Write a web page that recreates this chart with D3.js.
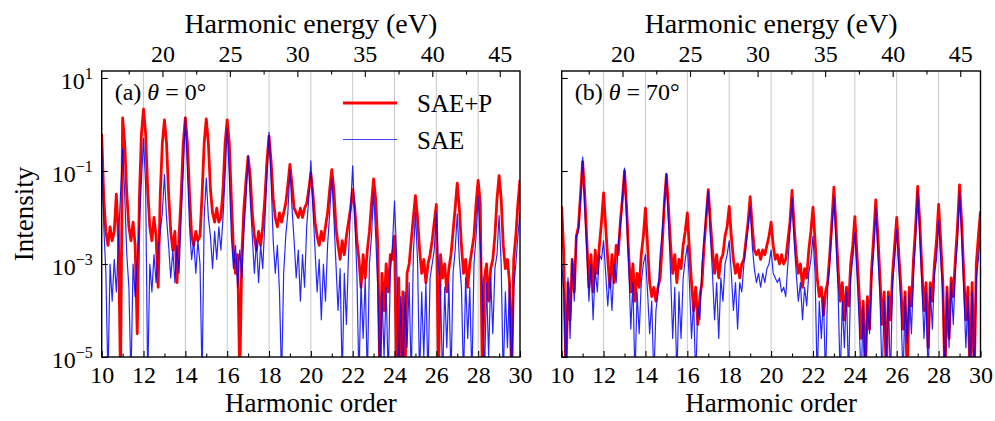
<!DOCTYPE html>
<html>
<head>
<meta charset="utf-8">
<script src="https://cdn.jsdelivr.net/npm/d3@7/dist/d3.min.js"></script>
<style>
  body { margin: 0; background: #fff; }
  text { font-family: "Liberation Serif", "Times New Roman", serif; fill: #000; }
</style>
</head>
<body>
<svg id="fig" width="995" height="421"></svg>
<script>
// harmonic order sampling grid, 10 ... 30 in steps of 0.1
var orders = d3.range(0, 201).map(function(i) { return 10 + i / 10; });

// log10 intensity, one row per harmonic order (n.0 ... n.9)
var saepA = [
  -0.2, -1.6, -2.3, -2.6, -2.2, -2.5, -2.3, -1.5, -2.4, -5.5,   // 10
  0.14, -0.4, -1.5, -2.2, -2.5, -2.1, -2.6, -4.5, -1.6, -0.2,   // 11
  0.33, -0.2, -1.4, -2.2, -2.5, -2.0, -2.4, -3.5, -1.5, -0.4,   // 12
  0.1, -0.4, -1.5, -2.3, -2.7, -2.3, -3.4, -2.4, -1.5, -0.4,    // 13
  0.14, -0.4, -1.5, -2.4, -2.6, -2.3, -2.5, -2.4, -1.5, -0.4,   // 14
  0.12, -0.4, -1.4, -1.9, -2.1, -1.8, -2.1, -2.0, -1.4, -0.4,   // 15
  0.1, -0.4, -1.6, -2.7, -3.2, -2.8, -5.5, -2.8, -1.8, -1.2,    // 16
  -0.69, -1.1, -1.9, -2.4, -2.7, -2.3, -2.6, -2.2, -1.6, -0.8,  // 17
  -0.25, -0.8, -1.6, -2.0, -2.2, -1.9, -2.1, -1.9, -1.7, -1.3,  // 18
  -0.86, -1.3, -1.8, -1.9, -2.0, -1.8, -2.0, -1.8, -1.7, -1.4,  // 19
  -1.05, -1.5, -2.1, -2.4, -2.6, -2.3, -2.5, -2.2, -1.9, -1.4,  // 20
  -0.97, -1.4, -2.2, -2.6, -2.9, -2.5, -2.8, -2.4, -2.1, -1.8,  // 21
  -1.4, -1.8, -2.5, -2.9, -3.5, -2.8, -3.3, -2.7, -2.3, -1.7,   // 22
  -1.17, -1.6, -2.6, -5.5, -3.2, -4.0, -3.0, -3.6, -2.8, -2.9,  // 23
  -2.4, -5.5, -3.3, -5.5, -3.6, -5.5, -3.2, -3.0, -2.5, -2.0,   // 24
  -1.53, -2.0, -2.7, -3.2, -2.9, -3.4, -3.0, -2.8, -2.5, -2.1,  // 25
  -1.72, -5.5, -2.8, -3.3, -3.0, -3.6, -3.1, -2.8, -2.3, -1.8,  // 26
  -1.26, -1.8, -2.6, -3.2, -2.9, -3.5, -3.0, -2.7, -2.4, -1.7,  // 27
  -1.2, -1.7, -5.5, -3.3, -3.0, -3.8, -3.1, -2.9, -2.4, -1.6,   // 28
  -1.1, -1.6, -2.6, -3.1, -2.9, -3.4, -5.5, -2.9, -2.4, -1.7,   // 29
  -1.19                                                         // 30
];
var saeA = [
  -0.55, -2.2, -3.2, -5.5, -3.0, -3.8, -2.9, -3.6, -2.5, -1.5,  // 10
  -0.53, -1.5, -2.8, -3.5, -5.5, -3.0, -3.7, -2.9, -2.2, -1.2,  // 11
  -0.3, -1.3, -5.5, -3.0, -3.6, -2.8, -3.4, -2.7, -2.3, -1.9,   // 12
  -1.08, -2.0, -2.6, -3.3, -2.7, -3.4, -2.6, -3.2, -2.0, -1.0,  // 13
  0.16, -1.0, -2.2, -2.9, -2.5, -3.2, -2.5, -3.0, -5.5, -2.0,   // 14
  -1.15, -2.0, -2.4, -3.1, -2.3, -2.9, -2.2, -2.7, -2.0, -1.1,  // 15
  -0.08, -1.1, -2.4, -3.1, -2.6, -3.5, -2.7, -3.3, -2.3, -1.6,  // 16
  -0.67, -1.6, -2.4, -3.2, -2.5, -3.4, -2.6, -3.1, -2.1, -1.1,  // 17
  -0.17, -1.2, -2.5, -3.2, -2.6, -3.6, -5.5, -3.2, -2.4, -1.9,  // 18
  -0.97, -1.8, -2.5, -3.3, -2.7, -3.8, -2.8, -3.5, -2.2, -1.6,  // 19
  -0.78, -1.8, -2.7, -3.6, -2.9, -4.2, -3.0, -3.8, -2.6, -1.9,  // 20
  -1.15, -2.0, -3.0, -4.0, -3.1, -5.5, -3.2, -4.3, -2.8, -1.8,  // 21
  -0.89, -2.0, -3.2, -5.5, -3.4, -4.6, -3.3, -5.5, -3.0, -2.4,  // 22
  -1.44, -2.4, -3.5, -5.5, -3.6, -5.0, -3.5, -5.5, -3.2, -2.6,  // 23
  -1.65, -2.8, -5.5, -3.7, -5.5, -3.6, -4.8, -3.4, -5.5, -2.8,  // 24
  -1.89, -2.9, -5.5, -3.6, -5.0, -3.4, -5.5, -3.3, -3.0, -2.7,  // 25
  -1.9, -3.0, -3.6, -5.5, -3.5, -4.8, -3.4, -5.5, -3.2, -2.7,   // 26
  -1.92, -2.9, -3.5, -5.5, -3.3, -4.6, -3.5, -5.5, -3.0, -2.4,  // 27
  -1.55, -2.6, -3.5, -5.5, -3.4, -5.0, -3.3, -4.5, -3.1, -2.8,  // 28
  -1.96, -3.0, -5.5, -3.6, -4.8, -3.4, -5.5, -3.5, -3.0, -2.4,  // 29
  -1.9                                                          // 30
];
var saepB = [
  -1.76, -2.8, -5.5, -3.4, -4.2, -2.9, -3.6, -2.4, -2.2, -1.5,  // 10
  -0.8, -1.5, -2.5, -3.5, -2.8, -3.6, -2.7, -3.2, -2.6, -2.1,   // 11
  -1.47, -2.2, -2.9, -3.5, -2.8, -3.4, -2.6, -2.8, -2.1, -1.6,  // 12
  -1.0, -1.8, -2.8, -3.6, -3.0, -3.8, -3.2, -3.5, -2.8, -2.4,   // 13
  -1.8, -2.6, -3.4, -3.7, -3.5, -3.8, -3.5, -3.3, -2.6, -1.7,   // 14
  -1.08, -1.8, -2.6, -3.2, -2.8, -3.4, -2.9, -3.1, -2.6, -2.3,  // 15
  -1.9, -2.7, -3.4, -4.0, -3.5, -4.3, -3.7, -3.4, -2.6, -2.0,   // 16
  -1.4, -2.1, -2.7, -3.2, -2.8, -3.3, -2.9, -2.8, -2.4, -2.2,   // 17
  -1.76, -2.4, -2.9, -3.2, -3.0, -3.3, -3.0, -2.9, -2.5, -2.1,  // 18
  -1.55, -2.2, -2.7, -2.8, -2.7, -2.9, -2.7, -2.8, -2.6, -2.4,  // 19
  -2.1, -2.6, -2.9, -2.8, -3.0, -2.8, -3.0, -2.9, -2.5, -2.1,   // 20
  -1.42, -2.2, -2.8, -3.2, -3.0, -3.5, -3.1, -3.3, -2.7, -2.3,  // 21
  -1.78, -2.5, -3.3, -3.7, -3.5, -4.1, -3.6, -3.4, -2.8, -2.1,  // 22
  -1.35, -2.2, -3.1, -3.8, -3.4, -4.2, -3.5, -3.9, -3.0, -2.6,  // 23
  -1.98, -2.8, -3.6, -4.6, -3.8, -5.5, -3.7, -4.4, -3.1, -2.4,  // 24
  -1.62, -2.4, -3.3, -4.3, -3.6, -5.5, -3.6, -4.2, -3.2, -2.6,  // 25
  -2.0, -2.8, -3.5, -4.4, -3.6, -5.5, -3.5, -3.9, -2.9, -2.2,   // 26
  -1.33, -2.1, -3.1, -4.0, -3.4, -4.8, -3.4, -3.8, -3.0, -2.5,  // 27
  -1.72, -2.5, -3.4, -5.5, -3.5, -4.6, -3.3, -3.7, -2.9, -2.2,  // 28
  -1.3, -2.1, -3.2, -4.2, -3.5, -5.5, -3.4, -5.5, -3.0, -2.4,   // 29
  -1.87                                                         // 30
];
var saeB = [
  -3.0, -3.6, -5.5, -3.3, -4.6, -2.9, -3.8, -2.4, -2.3, -1.6,   // 10
  -0.7, -1.8, -2.7, -3.8, -3.0, -4.2, -3.1, -3.6, -2.8, -2.9,   // 11
  -2.5, -3.2, -3.9, -3.2, -4.0, -3.0, -3.4, -2.6, -2.2, -1.6,   // 12
  -0.94, -2.0, -3.0, -4.4, -3.4, -5.5, -3.6, -4.5, -3.4, -3.0,  // 13
  -2.8, -3.6, -4.5, -3.8, -5.5, -4.0, -3.6, -2.8, -2.3, -1.7,   // 14
  -1.05, -2.1, -3.2, -4.6, -3.5, -5.5, -3.6, -4.6, -3.3, -2.9,  // 15
  -2.6, -3.4, -4.6, -3.8, -5.5, -3.9, -4.2, -3.0, -2.5, -1.9,   // 16
  -1.44, -2.4, -3.2, -4.2, -3.4, -4.6, -3.3, -3.8, -3.0, -2.8,  // 17
  -2.5, -3.2, -4.0, -3.4, -4.4, -3.4, -3.6, -3.0, -2.6, -2.2,   // 18
  -1.76, -2.6, -3.1, -3.4, -3.2, -3.5, -3.2, -3.4, -3.1, -3.0,  // 19
  -2.7, -3.2, -3.3, -3.4, -3.3, -3.6, -3.5, -3.7, -3.0, -2.3,   // 20
  -1.58, -2.5, -3.2, -3.8, -3.4, -4.2, -3.5, -3.9, -3.2, -2.9,  // 21
  -2.4, -3.2, -5.5, -3.8, -4.6, -3.7, -5.5, -3.5, -3.0, -2.3,   // 22
  -1.55, -2.5, -3.6, -5.5, -3.8, -4.8, -3.6, -5.5, -3.3, -2.9,  // 23
  -2.33, -3.2, -4.2, -5.5, -3.9, -5.5, -3.8, -4.5, -3.3, -2.7,  // 24
  -1.8, -2.8, -3.7, -5.5, -3.8, -5.0, -3.7, -5.5, -3.4, -2.9,   // 25
  -2.26, -3.1, -3.9, -5.5, -3.7, -4.7, -3.6, -4.5, -3.2, -2.5,  // 26
  -1.44, -2.4, -3.4, -4.6, -3.6, -5.5, -3.5, -4.4, -3.2, -2.9,  // 27
  -2.08, -2.9, -3.7, -5.5, -3.6, -4.8, -3.4, -4.3, -3.1, -2.5,  // 28
  -1.44, -2.4, -3.5, -4.8, -3.7, -5.5, -3.6, -5.5, -3.3, -2.9,  // 29
  -2.33                                                         // 30
];

var orderTicks = [10, 12, 14, 16, 18, 20, 22, 24, 26, 28, 30];
var orderMinor = [11, 13, 15, 17, 19, 21, 23, 25, 27, 29];
var gridOrders = [12, 14, 16, 18, 20, 22, 24, 26, 28];
var energyTicks = [20, 25, 30, 35, 40, 45];
var energyMinor = [17.5, 22.5, 27.5, 32.5, 37.5, 42.5];
var yTicks = [1, -1, -3, -5];   // decades labelled
var photonEnergy = 1.55;        // eV per harmonic order

var panels = [
  { left: 101.7, right: 520, label: '(a) ', angle: '0°', red: saepA, blue: saeA, yLabels: true, legend: true },
  { left: 561.7, right: 980.5, label: '(b) ', angle: '70°', red: saepB, blue: saeB, yLabels: false, legend: false }
];
var plotTop = 71, plotBottom = 357;

var svg = d3.select('#fig');

var y = d3.scaleLog()
    .domain([1e-5, Math.pow(10, 1.15)])
    .range([plotBottom, plotTop]);

panels.forEach(function(p, pi) {
  var x = d3.scaleLinear().domain([10, 30]).range([p.left, p.right]);
  var xe = d3.scaleLinear().domain([10 * photonEnergy, 30 * photonEnergy]).range([p.left, p.right]);
  var g = svg.append('g');

  var clipId = 'clip' + pi;
  svg.append('clipPath').attr('id', clipId)
    .append('rect')
      .attr('x', p.left).attr('y', plotTop)
      .attr('width', p.right - p.left).attr('height', plotBottom - plotTop);

  // light vertical grid at even orders
  g.selectAll('.grid')
    .data(gridOrders)
    .enter().append('line')
      .attr('x1', function(d) { return x(d); })
      .attr('x2', function(d) { return x(d); })
      .attr('y1', plotTop).attr('y2', plotBottom)
      .attr('stroke', '#c8c8c8')
      .attr('stroke-width', 1);

  var line = d3.line()
      .x(function(d) { return x(d[0]); })
      .y(function(d) { return y(Math.pow(10, Math.max(d[1], -5.6))); });

  var curves = g.append('g').attr('clip-path', 'url(#' + clipId + ')');
  curves.append('path')
      .datum(orders.map(function(o, i) { return [o, p.red[i]]; }))
      .attr('d', line)
      .attr('fill', 'none')
      .attr('stroke', '#ff0000')
      .attr('stroke-width', 2.8)
      .attr('stroke-linejoin', 'round');
  curves.append('path')
      .datum(orders.map(function(o, i) { return [o, p.blue[i]]; }))
      .attr('d', line)
      .attr('fill', 'none')
      .attr('stroke', '#0000ff')
      .attr('stroke-opacity', 0.85)
      .attr('stroke-width', 1.2)
      .attr('stroke-linejoin', 'round');

  // bottom axis (ticks point inward)
  var xAxis = d3.axisBottom(x)
      .tickValues(orderTicks)
      .tickSize(-6)
      .tickSizeOuter(0)
      .tickPadding(9)
      .tickFormat(d3.format('d'));
  var xMinor = d3.axisBottom(x).tickValues(orderMinor).tickSize(-3.5).tickSizeOuter(0).tickFormat('');
  g.append('g').attr('transform', 'translate(0,' + plotBottom + ')').call(xAxis);
  g.append('g').attr('transform', 'translate(0,' + plotBottom + ')').call(xMinor);

  // top axis in photon energy
  var eAxis = d3.axisTop(xe)
      .tickValues(energyTicks)
      .tickSize(-6)
      .tickSizeOuter(0)
      .tickPadding(9)
      .tickFormat(d3.format('d'));
  var eMinor = d3.axisTop(xe).tickValues(energyMinor).tickSize(-3.5).tickSizeOuter(0).tickFormat('');
  g.append('g').attr('transform', 'translate(0,' + plotTop + ')').call(eAxis);
  g.append('g').attr('transform', 'translate(0,' + plotTop + ')').call(eMinor);

  // left axis, decades every 10^2
  var yAxis = d3.axisLeft(y)
      .tickValues(yTicks.map(function(e) { return Math.pow(10, e); }))
      .tickSize(-6)
      .tickSizeOuter(0)
      .tickPadding(9)
      .tickFormat('');
  var ya = g.append('g').attr('transform', 'translate(' + p.left + ',0)').call(yAxis);
  if (p.yLabels) {
    ya.selectAll('.tick').each(function(d) {
      var t = d3.select(this).select('text').attr('dy', '0.42em');
      var e = Math.round(Math.log10(d));
      t.append('tspan').text('10');
      t.append('tspan')
        .attr('font-size', 16)
        .attr('dy', '-0.6em')
        .text(e < 0 ? '\u2212' + (-e) : String(e));
    });
  }

  g.selectAll('.domain').remove();
  g.selectAll('.tick line').attr('stroke', '#000').attr('stroke-width', 1.1);
  g.selectAll('.tick text')
      .attr('fill', '#000')
      .style('font-family', '"Liberation Serif", serif')
      .style('font-size', '24px');

  // frame
  g.append('rect')
      .attr('x', p.left).attr('y', plotTop)
      .attr('width', p.right - p.left).attr('height', plotBottom - plotTop)
      .attr('fill', 'none')
      .attr('stroke', '#000')
      .attr('stroke-width', 1.4);

  // axis titles
  var cx = (p.left + p.right) / 2;
  g.append('text')
      .attr('x', cx).attr('y', 33)
      .attr('text-anchor', 'middle')
      .style('font-size', '28px')
      .text('Harmonic energy (eV)');
  g.append('text')
      .attr('x', cx).attr('y', 412)
      .attr('text-anchor', 'middle')
      .style('font-size', '27px')
      .text('Harmonic order');

  // panel label
  var lab = g.append('text')
      .attr('x', p.left + 13).attr('y', 100)
      .style('font-size', '24px');
  lab.append('tspan').text(p.label);
  lab.append('tspan').style('font-style', 'italic').text('\u03b8');
  lab.append('tspan').text(' = ' + p.angle);

  if (p.legend) {
    var items = [
      { name: 'SAE+P', color: '#ff0000', w: 2.8, yy: 103 },
      { name: 'SAE', color: '#0000ff', w: 1.2, yy: 139.5 }
    ];
    var lg = g.selectAll('.legend')
      .data(items)
      .enter().append('g');
    lg.append('line')
        .attr('x1', 343).attr('x2', 397)
        .attr('y1', function(d) { return d.yy; })
        .attr('y2', function(d) { return d.yy; })
        .attr('stroke', function(d) { return d.color; })
        .attr('stroke-opacity', function(d, i) { return i ? 0.75 : 1; })
        .attr('stroke-width', function(d) { return d.w; });
    lg.append('text')
        .attr('x', 417)
        .attr('y', function(d) { return d.yy + 9; })
        .style('font-size', '25px')
        .text(function(d) { return d.name; });
  }
});

svg.append('text')
    .attr('transform', 'translate(33,214) rotate(-90)')
    .attr('text-anchor', 'middle')
    .style('font-size', '27px')
    .text('Intensity');
</script>
</body>
</html>
